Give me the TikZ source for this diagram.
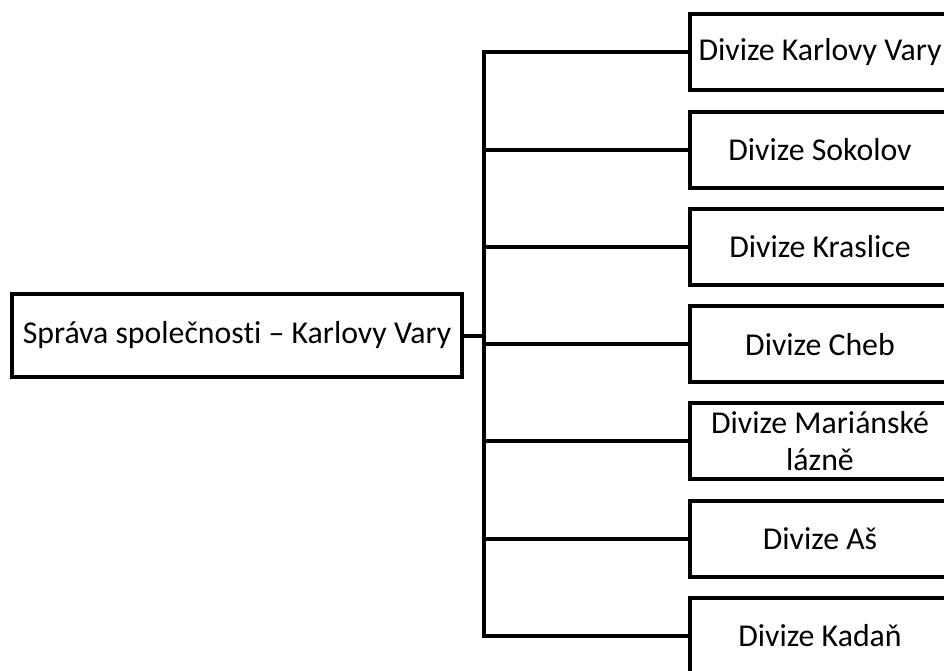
\documentclass[tikz,border=0pt]{standalone}
\usepackage{fontspec}
\setmainfont[Ligatures=NoCommon]{Carlito}
\begin{document}
\begin{tikzpicture}[x=1pt,y=-1pt,
  box/.style={draw=black,line width=4pt,fill=white,inner sep=0pt,align=center,
    font=\fontsize{31.8}{37}\selectfont},
  divbox/.style={box,minimum width=260pt,minimum height=76pt},
  conn/.style={draw=black,line width=4pt}]
\useasboundingbox (0,0) rectangle (944,671);
\clip (0,0) rectangle (944,671);
\node[box,minimum width=450pt,minimum height=83pt] (L) at (237,335.5) {Správa společnosti – Karlovy Vary};
\node[divbox] (b1) at (820,52.5) {Divize Karlovy Vary};
\node[divbox] (b2) at (820,149.7) {Divize Sokolov};
\node[divbox] (b3) at (820,246.9) {Divize Kraslice};
\node[divbox] (b4) at (820,344.1) {Divize Cheb};
\node[divbox] (b5) at (820,441.3) {Divize Mariánské\\lázně};
\node[divbox] (b6) at (820,538.5) {Divize Aš};
\node[divbox] (b7) at (820,635.7) {Divize Kadaň};
\coordinate (tx) at (484,0);
\draw[conn,line cap=rect] (b1.west -| tx) -- (b7.west -| tx);
\draw[conn] (L.east) -- (L.east -| tx);
\foreach \i in {1,...,7} {
  \draw[conn] (b\i.west -| tx) -- (b\i.west);
}
\end{tikzpicture}
\end{document}
